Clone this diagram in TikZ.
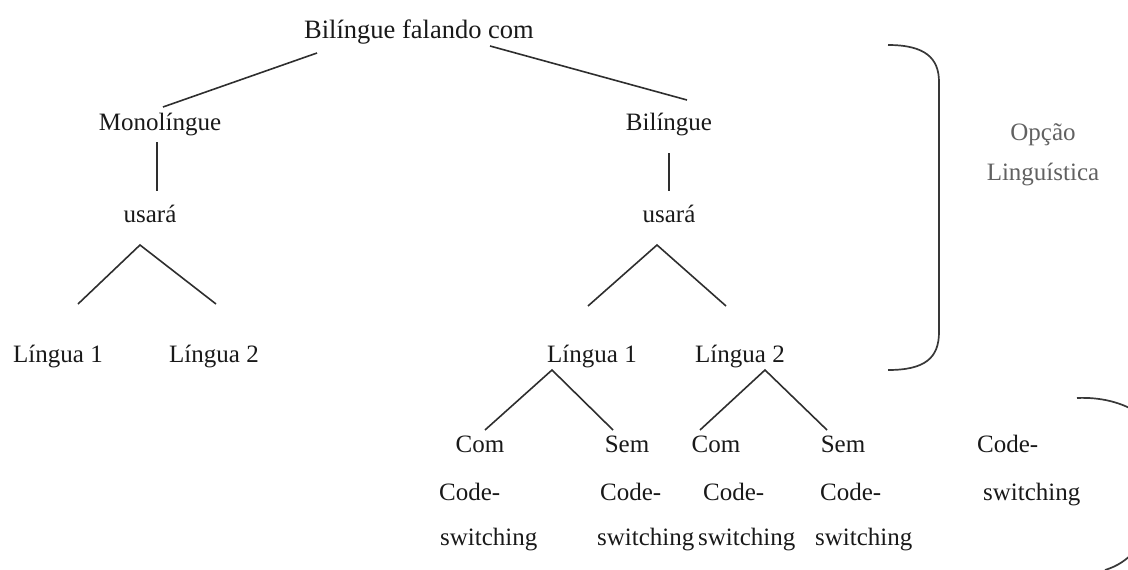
\documentclass[tikz,border=0pt]{standalone}
\usepackage{fontspec}
\setmainfont{Liberation Serif}
\begin{document}
\begin{tikzpicture}[x=1pt,y=-1pt,
  lbl/.style={inner sep=0pt, anchor=base, text=black!90, font=\fontsize{25}{30}\selectfont},
  lbll/.style={lbl, anchor=base west},
  conn/.style={draw=black!82, line width=1.6pt},
  brace/.style={draw=black!78, line width=1.7pt}]
\useasboundingbox (0,0) rectangle (1128,570);
\clip (0,0) rectangle (1128,570);
% top level
\node[lbl, font=\fontsize{26.5}{30}\selectfont] (top) at (419,38) {Bilíngue falando com};
\node[lbl] (mono) at (160,130) {Monolíngue};
\node[lbl] (bil) at (669,130) {Bilíngue};
\node[lbl] (usaL) at (150,222) {usará};
\node[lbl] (usaR) at (669,222) {usará};
\node[lbl] (l1L) at (58,362) {Língua 1};
\node[lbl] (l2L) at (214,362) {Língua 2};
\node[lbl] (l1R) at (592,362) {Língua 1};
\node[lbl] (l2R) at (740,362) {Língua 2};
% leaves
\node[lbl] (com1) at (480,452) {Com};
\node[lbl] (sem1) at (627,452) {Sem};
\node[lbl] (com2) at (716,452) {Com};
\node[lbl] (sem2) at (843,452) {Sem};
\node[lbll] (cd1) at (439,500) {Code-};
\node[lbll] (cd2) at (600,500) {Code-};
\node[lbll] (cd3) at (703,500) {Code-};
\node[lbll] (cd4) at (820,500) {Code-};
\node[lbll] (sw1) at (440,545) {switching};
\node[lbll] (sw2) at (597,545) {switching};
\node[lbll] (sw3) at (698,545) {switching};
\node[lbll] (sw4) at (815,545) {switching};
\node[lbll] (cd5) at (977,452) {Code-};
\node[lbll] (sw5) at (983,500) {switching};
% side label
\node[inner sep=0pt, align=center, text=black!62, font=\fontsize{25}{40}\selectfont] (opc) at (1043,155) {Opção\\Linguística};
% connector end points
\coordinate (tL) at (317,53);
\coordinate (tR) at (490,46);
\coordinate (mT) at (163,107);
\coordinate (bT) at (687,100);
\coordinate (mB) at (157,142);
\coordinate (uLT) at (157,191);
\coordinate (bB) at (669,153);
\coordinate (uRT) at (669,191);
\coordinate (apL) at (140,245);
\coordinate (lfL) at (78,304);
\coordinate (lfR) at (216,304);
\coordinate (apR) at (657,245);
\coordinate (rfL) at (588,306);
\coordinate (rfR) at (726,306);
\coordinate (ap1) at (552,370);
\coordinate (c1) at (485,430);
\coordinate (s1) at (613,430);
\coordinate (ap2) at (765,370);
\coordinate (c2) at (700,430);
\coordinate (s2) at (827,430);
\draw[conn] (tL) -- (mT);
\draw[conn] (tR) -- (bT);
\draw[conn] (mB) -- (uLT);
\draw[conn] (bB) -- (uRT);
\draw[conn] (lfL) -- (apL) -- (lfR);
\draw[conn] (rfL) -- (apR) -- (rfR);
\draw[conn] (c1) -- (ap1) -- (s1);
\draw[conn] (c2) -- (ap2) -- (s2);
% brace
\draw[brace] (888,45) .. controls (925,45) and (939,58) .. (939,82)
  -- (939,332) .. controls (939,358) and (925,370) .. (888,370);
% partial bracket at bottom right
\draw[brace] (1077,398) .. controls (1100,397) and (1122,402) .. (1140,414);
\draw[brace] (1105,570) .. controls (1118,566) and (1126,560) .. (1134,552);
\end{tikzpicture}
\end{document}
